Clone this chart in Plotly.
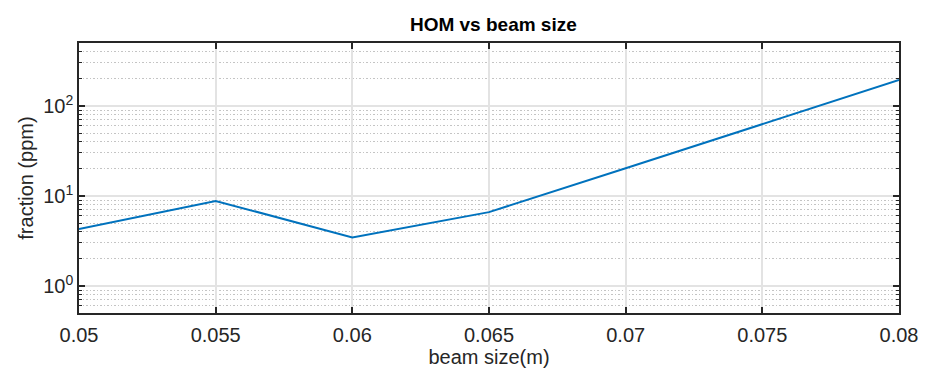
import plotly.graph_objects as go

# HOM fraction (ppm) versus beam size (m)
beam_size = [0.05, 0.055, 0.06, 0.065, 0.07, 0.075, 0.08]
fraction_ppm = [4.3, 8.8, 3.46, 6.6, 20.3, 63.3, 194.0]

x_ticks = [0.05, 0.055, 0.06, 0.065, 0.07, 0.075, 0.08]
x_tick_text = ["0.05", "0.055", "0.06", "0.065", "0.07", "0.075", "0.08"]
y_ticks = [1, 10, 100]
y_tick_text = ["10<sup>0</sup>", "10<sup>1</sup>", "10<sup>2</sup>"]
y_minor = [0.5, 0.6, 0.7, 0.8, 0.9] + [m * d for d in (1, 10, 100) for m in range(2, 10) if m * d < 500]

axis_col = "#262626"
font = "Liberation Sans, Arial, sans-serif"

fig = go.Figure(go.Scatter(
    x=beam_size, y=fraction_ppm, mode="lines",
    line=dict(color="#0072BD", width=2),
))

fig.update_layout(
    width=930, height=372,
    margin=dict(l=79, r=22, t=43, b=51),
    paper_bgcolor="white", plot_bgcolor="white",
    showlegend=False,
    title=dict(text="<b>HOM vs beam size</b>", x=0.5305, xanchor="center",
               y=0.935, yanchor="middle",
               font=dict(family=font, size=19, color="black")),
    font=dict(family=font, color=axis_col),
)

fig.update_xaxes(
    range=[0.05, 0.08], tickvals=x_ticks, ticktext=x_tick_text,
    ticks="inside", ticklen=6, tickwidth=1.5, tickcolor=axis_col,
    showline=True, linecolor=axis_col, linewidth=1.5, mirror="ticks",
    showgrid=True, gridcolor="#e3e3e3", gridwidth=1.5,
    tickfont=dict(size=20, color=axis_col), ticklabelstandoff=3,
    title=dict(text="beam size(m)", font=dict(size=20, color=axis_col), standoff=0),
    zeroline=False,
)

fig.update_yaxes(
    type="log", range=[-0.301, 2.699],
    tickvals=y_ticks, ticktext=y_tick_text,
    ticks="inside", ticklen=6, tickwidth=1.5, tickcolor=axis_col,
    showline=True, linecolor=axis_col, linewidth=1.5, mirror="ticks",
    showgrid=True, gridcolor="#e3e3e3", gridwidth=1.5,
    tickfont=dict(size=20, color=axis_col),
    title=dict(text="fraction (ppm)", font=dict(size=20, color=axis_col), standoff=4),
    minor=dict(tickvals=y_minor, ticks="inside", ticklen=3, tickwidth=1.2,
               tickcolor=axis_col, showgrid=True, gridcolor="#c4c4c4",
               griddash="1.5px,2px", gridwidth=1.2),
    zeroline=False,
)

fig.write_html("out.html")
